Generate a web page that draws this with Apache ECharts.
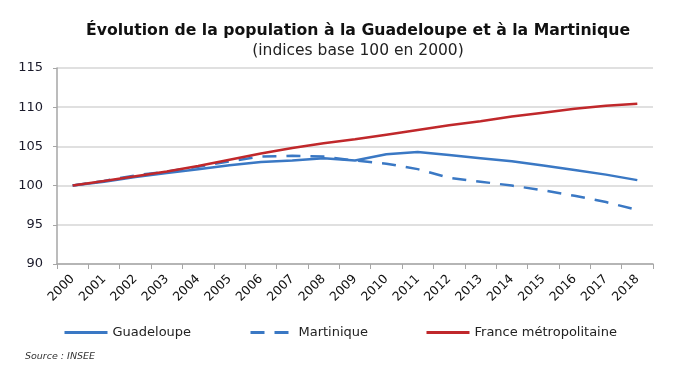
<!DOCTYPE html>
<html><head><meta charset="utf-8">
<script src="https://cdn.jsdelivr.net/npm/echarts@6/dist/echarts.min.js"></script>
<style>html,body{margin:0;padding:0;background:#fff}#c{width:700px;height:380px}</style>
</head><body><div id="c"></div>
<script>
const years = ['2000','2001','2002','2003','2004','2005','2006','2007','2008','2009','2010','2011','2012','2013','2014','2015','2016','2017','2018'];
const guadeloupe = [100,100.5,101.1,101.6,102.1,102.6,103.0,103.2,103.5,103.2,104.0,104.3,103.9,103.5,103.1,102.55,102.0,101.4,100.7];
const martinique = [100,100.6,101.3,101.8,102.4,103.1,103.7,103.8,103.7,103.2,102.8,102.1,101.0,100.5,100.0,99.4,98.7,97.9,96.9];
const france = [100,100.6,101.2,101.8,102.5,103.3,104.1,104.8,105.4,105.9,106.5,107.1,107.7,108.2,108.8,109.3,109.8,110.2,110.45];
const yTicks = [90,95,100,105,110,115];
const seriesNames = ['Guadeloupe','Martinique','France métropolitaine'];

const blue = '#3a78c4', red = '#c0282b';
const chart = echarts.init(document.getElementById('c'), null, {renderer:'canvas'});
const legendBase = {top: 321, itemWidth: 43, itemHeight: 12, itemGap: 0,
  itemStyle:{opacity:0}, lineStyle:{width:3},
  textStyle:{fontFamily:'DejaVu Sans', fontSize:13, color:'#222', padding:[0,0,0,0]}};
chart.setOption({
  animation:false,
  title:[{text:'Évolution de la population à la Guadeloupe et à la Martinique', left:353, textAlign:'center', top:18,
      textStyle:{fontFamily:'DejaVu Sans', fontWeight:'bold', fontSize:15.7, color:'#111'}},
    {text:'(indices base 100 en 2000)', left:353, textAlign:'center', top:38,
      textStyle:{fontFamily:'DejaVu Sans', fontWeight:'normal', fontSize:15.5, color:'#222'}},
    {text:'Source : INSEE', left:20, top:347,
      textStyle:{fontFamily:'DejaVu Sans', fontStyle:'italic', fontWeight:'normal', fontSize:9.5, color:'#333'}}],
  legend:[
    Object.assign({left:58, data:[seriesNames[0]]}, legendBase),
    Object.assign({left:244, data:[seriesNames[1]]}, legendBase),
    Object.assign({left:420, data:[seriesNames[2]]}, legendBase)
  ],
  grid:{left:57, right:47, top:68, bottom:116, containLabel:false},
  xAxis:{type:'category', data:years, boundaryGap:true,
    axisLine:{lineStyle:{color:'#a6a6a6', width:1.5}},
    axisTick:{show:true, length:5, lineStyle:{color:'#a6a6a6'}},
    axisLabel:{rotate:45, interval:0, fontFamily:'DejaVu Sans', fontSize:12.5, color:'#111', margin:13}},
  yAxis:{type:'value', min:90, max:115, interval:5,
    axisLine:{show:true, lineStyle:{color:'#a6a6a6', width:1.5}},
    axisTick:{show:true, length:4, inside:false, lineStyle:{color:'#a6a6a6'}},
    splitLine:{lineStyle:{color:'#e0e0e0', width:2}},
    axisLabel:{fontFamily:'DejaVu Sans', fontSize:13, color:'#1a1a2a', margin:14,
      formatter:v=> yTicks.includes(v)? String(v):''}},
  series:[
    {name:seriesNames[0], type:'line', data:guadeloupe, symbol:'none', z:3,
      lineStyle:{color:blue, width:2.5}, itemStyle:{color:blue}},
    {name:seriesNames[1], type:'line', data:martinique, symbol:'none', z:2,
      lineStyle:{color:blue, width:2.5, type:[14,10]}, itemStyle:{color:blue}},
    {name:seriesNames[2], type:'line', data:france, symbol:'none', z:4,
      lineStyle:{color:red, width:2.5}, itemStyle:{color:red}}
  ]
});
</script></body></html>
